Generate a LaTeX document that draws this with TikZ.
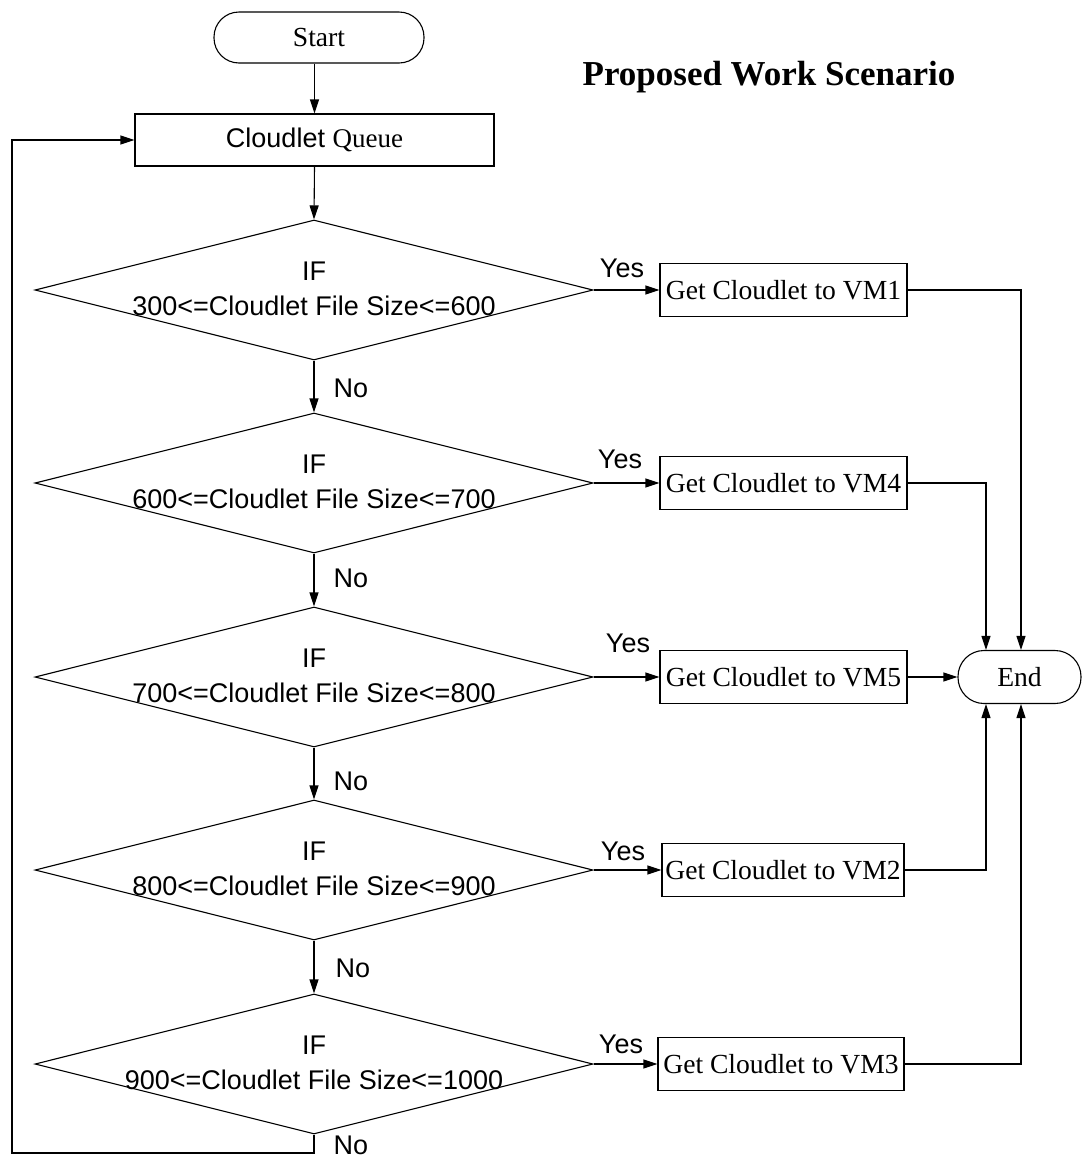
\documentclass[tikz,border=0pt]{standalone}
\usepackage{fontspec}
\setmainfont{Liberation Serif}
\setsansfont{Liberation Sans}
\usetikzlibrary{arrows.meta,shapes.geometric}
\newcommand\boxfont{\fontsize{27.6}{32}\selectfont}
\newcommand\queuefont{\fontsize{27}{32}\selectfont}
\newcommand\condfont{\sffamily\fontsize{27}{35}\selectfont}
\begin{document}
\begin{tikzpicture}[x=1pt,y=-1pt,line width=1.1pt,
  every node/.style={inner sep=0pt},
  term/.style={draw,rounded corners=25pt,minimum height=51pt,font=\boxfont},
  procbox/.style={draw,minimum width=247pt,minimum height=53pt,font=\boxfont},
  decision/.style={draw,diamond,aspect=3.99,minimum width=558pt,minimum height=140pt},
  condtext/.style={align=center,font=\condfont},
  lbl/.style={font=\condfont},
  arr/.style={-{Triangle[length=14pt,width=9pt]}}]
\useasboundingbox (0,0) rectangle (1082,1160);

% title
\node[font=\bfseries\fontsize{35}{40}\selectfont] (title) at (769,77) {Proposed Work Scenario};

% start and queue
\node[term,minimum width=210pt] (start) at (319,37.5) {Start};
\node[draw,minimum width=359pt,minimum height=52pt,font=\queuefont] (queue) at (314.5,140)
  {\sffamily Cloudlet \rmfamily Queue};

% decisions
\node[decision] (d1) at (314,290) {};
\node[decision] (d2) at (314,483) {};
\node[decision] (d3) at (314,677) {};
\node[decision] (d4) at (314,870) {};
\node[decision] (d5) at (314,1064) {};
\node[condtext] (c1) at (314,289) {IF\\300<=Cloudlet File Size<=600};
\node[condtext] (c2) at (314,482) {IF\\600<=Cloudlet File Size<=700};
\node[condtext] (c3) at (314,676) {IF\\700<=Cloudlet File Size<=800};
\node[condtext] (c4) at (314,869) {IF\\800<=Cloudlet File Size<=900};
\node[condtext] (c5) at (314,1063) {IF\\900<=Cloudlet File Size<=1000};

% actions
\node[procbox] (b1) at (783.5,290) {Get Cloudlet to VM1};
\node[procbox] (b2) at (783.5,483) {Get Cloudlet to VM4};
\node[procbox] (b3) at (783.5,677) {Get Cloudlet to VM5};
\node[procbox,minimum width=242pt] (b4) at (783,870) {Get Cloudlet to VM2};
\node[procbox,minimum width=246pt] (b5) at (781,1064) {Get Cloudlet to VM3};

% end
\node[draw,rounded corners=26pt,minimum width=123pt,minimum height=53pt,font=\boxfont] (end) at (1019.5,677) {End};

% main flow
\draw[arr] (queue.north |- start.south) -- (queue.north);
\draw[arr] (queue.south) -- (d1.north);
\draw[arr] (d1.south) -- (d2.north);
\draw[arr] (d2.south) -- (d3.north);
\draw[arr] (d3.south) -- (d4.north);
\draw[arr] (d4.south) -- (d5.north);

% yes branches
\draw[arr] (d1.east) -- (b1.west);
\draw[arr] (d2.east) -- (b2.west);
\draw[arr] (d3.east) -- (b3.west);
\draw[arr] (d4.east) -- (b4.west);
\draw[arr] (d5.east) -- (b5.west);

% branch labels
\node[lbl] (y1) at (622,268) {Yes};
\node[lbl] (y2) at (620,459) {Yes};
\node[lbl] (y3) at (628,643) {Yes};
\node[lbl] (y4) at (623,851) {Yes};
\node[lbl] (y5) at (621,1044) {Yes};
\node[lbl] (n1) at (351,388) {No};
\node[lbl] (n2) at (351,578) {No};
\node[lbl] (n3) at (351,781) {No};
\node[lbl] (n4) at (353,968) {No};
\node[lbl] (n5) at (351,1145) {No};

% actions into end
\draw[arr] (b1.east) -| ([xshift=1.5pt]end.north);
\draw[arr] (b2.east) -| ([xshift=-33.5pt]end.north);
\draw[arr] (b3.east) -- (end.west);
\draw[arr] (b4.east) -| ([xshift=-33.5pt]end.south);
\draw[arr] (b5.east) -| ([xshift=1.5pt]end.south);

% loop back to queue
\coordinate (loopcorner) at (12,1153);
\draw[arr] (d5.south) |- (loopcorner) |- (queue.west);
\end{tikzpicture}
\end{document}
